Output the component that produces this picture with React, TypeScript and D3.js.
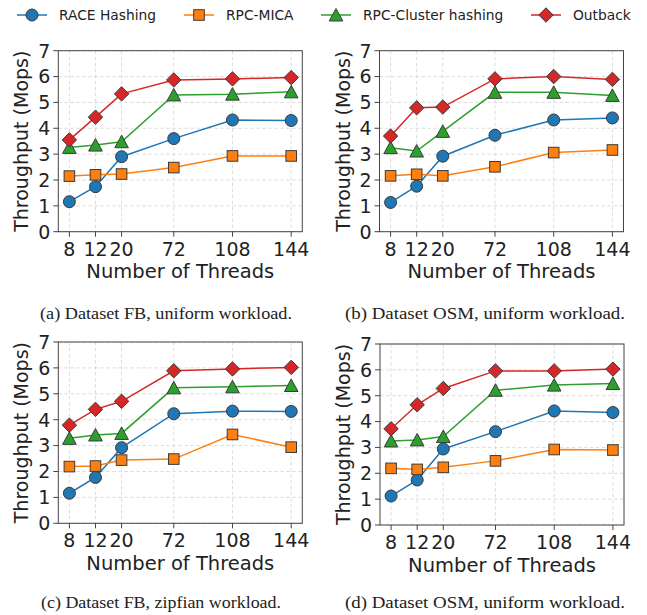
import React from "react";
import * as d3 from "d3";

const threads = [8, 12, 20, 72, 108, 144];
const threadSlots = [0, 1, 2, 4, 6.25, 8.5];
const yTicks = [0, 1, 2, 3, 4, 5, 6, 7];
const seriesNames = ["RACE Hashing", "RPC-MICA", "RPC-Cluster hashing", "Outback"];
const seriesColors = ["#1f77b4", "#ff7f0e", "#2ca02c", "#d62728"];
const seriesMarkers = ["circle", "square", "triangle", "diamond"];

// (a) Dataset FB, uniform
const raceA = [1.16, 1.74, 2.9, 3.6, 4.32, 4.3];
const micaA = [2.15, 2.2, 2.23, 2.48, 2.93, 2.93];
const clusterA = [3.26, 3.35, 3.48, 5.29, 5.32, 5.41];
const outbackA = [3.55, 4.43, 5.33, 5.87, 5.91, 5.96];
// (b) Dataset OSM, uniform
const raceB = [1.13, 1.76, 2.92, 3.73, 4.32, 4.4];
const micaB = [2.16, 2.22, 2.16, 2.51, 3.06, 3.16];
const clusterB = [3.25, 3.12, 3.88, 5.39, 5.39, 5.27];
const outbackB = [3.7, 4.79, 4.82, 5.91, 6.0, 5.89];
// (c) Dataset FB, zipfian
const raceC = [1.16, 1.77, 2.92, 4.23, 4.33, 4.32];
const micaC = [2.19, 2.21, 2.44, 2.48, 3.43, 2.94];
const clusterC = [3.28, 3.41, 3.47, 5.23, 5.27, 5.32];
const outbackC = [3.79, 4.4, 4.71, 5.89, 5.96, 6.02];
// (d) Dataset OSM, uniform
const raceD = [1.12, 1.74, 2.94, 3.61, 4.41, 4.35];
const micaD = [2.19, 2.15, 2.23, 2.48, 2.92, 2.9];
const clusterD = [3.25, 3.29, 3.42, 5.21, 5.41, 5.47];
const outbackD = [3.72, 4.65, 5.28, 5.96, 5.96, 6.03];

const captions = [
  "(a)  Dataset FB, uniform workload.",
  "(b)  Dataset OSM, uniform workload.",
  "(c)  Dataset FB, zipfian workload.",
  "(d)  Dataset OSM, uniform workload.",
];

const panels = [
  { series: [raceA, micaA, clusterA, outbackA], left: 58.3, right: 302.3, top: 50.7, bottom: 231.7, capX: 166, capY: 319, capW: 252 },
  { series: [raceB, micaB, clusterB, outbackB], left: 379.5, right: 623.5, top: 50.7, bottom: 231.7, capX: 485, capY: 319, capW: 280 },
  { series: [raceC, micaC, clusterC, outbackC], left: 58.3, right: 302.3, top: 342, bottom: 523.3, capX: 161, capY: 608, capW: 240 },
  { series: [raceD, micaD, clusterD, outbackD], left: 380, right: 624, top: 344, bottom: 525, capX: 485, capY: 608, capW: 280 },
];

const FONT = "DejaVu Sans, sans-serif";

function Marker({ kind, x, y, color }: { kind: string; x: number; y: number; color: string }) {
  const st = { fill: color, stroke: "#3a3a3a", strokeWidth: 1 };
  if (kind === "circle") return <circle cx={x} cy={y} r={6} {...st} />;
  if (kind === "square") return <rect x={x - 5.3} y={y - 5.3} width={10.6} height={10.6} {...st} />;
  if (kind === "triangle")
    return <path d={`M${x},${y - 6.5}L${x + 6.8},${y + 6}L${x - 6.8},${y + 6}Z`} {...st} />;
  return <path d={`M${x},${y - 7.2}L${x + 7.2},${y}L${x},${y + 7.2}L${x - 7.2},${y}Z`} {...st} />;
}

function Panel({ p, caption }: { p: any; caption: string }) {
  const span = threadSlots[threadSlots.length - 1] - threadSlots[0];
  const slotScale = d3
    .scaleLinear()
    .domain([threadSlots[0] - span * 0.05, threadSlots[threadSlots.length - 1] + span * 0.05])
    .range([p.left, p.right]);
  const x = (t: number) => slotScale(threadSlots[threads.indexOf(t)]);
  const y = d3.scaleLinear().domain([0, 7]).range([p.bottom, p.top]);
  const line = d3
    .line<number>()
    .x((_, i) => x(threads[i]))
    .y((v) => y(v));
  return (
    <g>
      {yTicks.map((t) => (
        <line key={"gy" + t} x1={p.left} x2={p.right} y1={y(t)} y2={y(t)} stroke="#d4d4d4" strokeWidth={0.8} strokeDasharray="3.5,2.5" />
      ))}
      {threads.map((t) => (
        <line key={"gx" + t} x1={x(t)} x2={x(t)} y1={p.top} y2={p.bottom} stroke="#d4d4d4" strokeWidth={0.8} strokeDasharray="3.5,2.5" />
      ))}
      {p.series.map((vals: number[], si: number) => (
        <g key={"s" + si}>
          <path d={line(vals) || ""} fill="none" stroke={seriesColors[si]} strokeWidth={1.5} />
          {vals.map((v, i) => (
            <Marker key={i} kind={seriesMarkers[si]} x={x(threads[i])} y={y(v)} color={seriesColors[si]} />
          ))}
        </g>
      ))}
      <rect x={p.left} y={p.top} width={p.right - p.left} height={p.bottom - p.top} fill="none" stroke="#444" strokeWidth={1} />
      {yTicks.map((t) => (
        <g key={"ty" + t}>
          <line x1={p.left - 5} x2={p.left} y1={y(t)} y2={y(t)} stroke="#444" strokeWidth={1} />
          <text x={p.left - 8} y={y(t)} dy="0.36em" textAnchor="end" fontFamily={FONT} fontSize={19} fill="#222">
            {t}
          </text>
        </g>
      ))}
      {threads.map((t) => (
        <g key={"tx" + t}>
          <line x1={x(t)} x2={x(t)} y1={p.bottom} y2={p.bottom + 5} stroke="#444" strokeWidth={1} />
          <text x={x(t)} y={p.bottom + 24} textAnchor="middle" fontFamily={FONT} fontSize={19} fill="#222">
            {t}
          </text>
        </g>
      ))}
      <text x={(p.left + p.right) / 2} y={p.bottom + 46.5} textAnchor="middle" fontFamily={FONT} fontSize={19.5} fill="#222">
        Number of Threads
      </text>
      <text
        transform={`translate(${p.left - 30},${(p.top + p.bottom) / 2}) rotate(-90)`}
        textAnchor="middle"
        fontFamily={FONT}
        fontSize={19}
        fill="#222"
      >
        Throughput (Mops)
      </text>
      <text
        x={p.capX}
        y={p.capY}
        textAnchor="middle"
        fontFamily="Liberation Serif, serif"
        fontSize={17.5}
        textLength={p.capW}
        lengthAdjust="spacingAndGlyphs"
        fill="#222"
      >
        {caption}
      </text>
    </g>
  );
}

const legendStarts = [17, 184, 321, 531];

export default function App() {
  return (
    <svg width={647} height={615} style={{ position: "absolute", left: 0, top: 0, background: "#fff" }}>
      <rect width={647} height={615} fill="#fff" />
      {seriesNames.map((name, i) => {
        const x0 = legendStarts[i];
        const ly = 15;
        return (
          <g key={name}>
            <line x1={x0} x2={x0 + 30} y1={ly} y2={ly} stroke={seriesColors[i]} strokeWidth={1.5} />
            <Marker kind={seriesMarkers[i]} x={x0 + 15} y={ly} color={seriesColors[i]} />
            <text x={x0 + 42} y={ly} dy="0.36em" fontFamily={FONT} fontSize={13.8} fill="#222">
              {name}
            </text>
          </g>
        );
      })}
      {panels.map((p, i) => (
        <Panel key={i} p={p} caption={captions[i]} />
      ))}
    </svg>
  );
}
